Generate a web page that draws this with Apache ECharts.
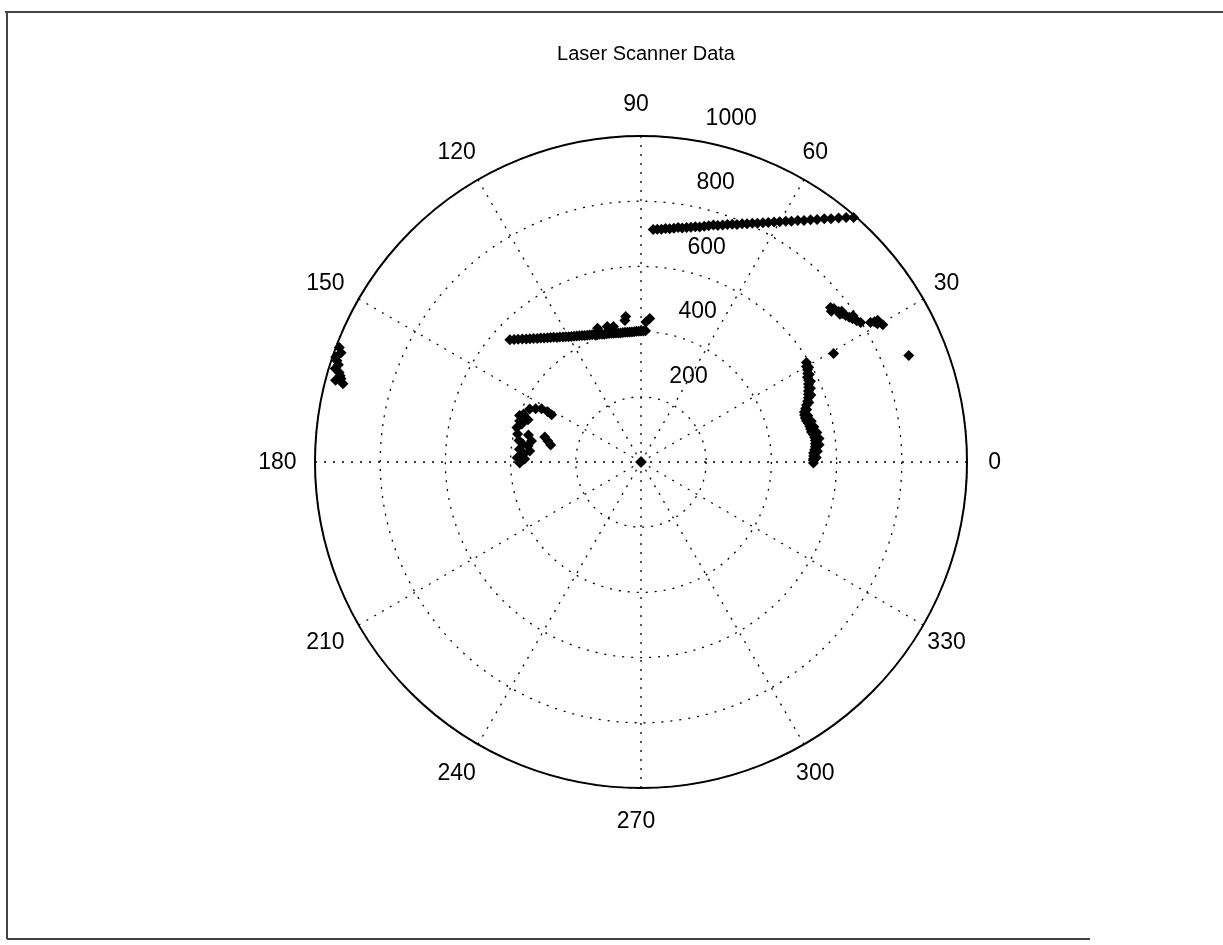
<!DOCTYPE html>
<html>
<head>
<meta charset="utf-8">
<title>Laser Scanner Data</title>
<script src="https://cdn.jsdelivr.net/npm/echarts@6/dist/echarts.min.js"></script>
<style>
  html, body { margin: 0; padding: 0; background: #fff; }
  #chart { width: 1223px; height: 945px; }
</style>
</head>
<body>
<div id="chart"></div>
<script>
// Scan returns as [range, bearing in degrees]
var northWall = [
  [994, 49], [979, 50], [963, 51], [947, 52], [934, 53], [919, 54], [907, 55], [894, 56],
  [883, 57], [871, 58], [862, 59], [851, 60], [842, 61], [832, 62], [824, 63], [815, 64],
  [808, 65], [800, 66], [794, 67], [786, 68], [781, 69], [775, 70], [769, 71], [763, 72],
  [760, 73], [754, 74], [749, 75], [743, 76], [741, 77], [736, 78], [733, 79], [729, 80],
  [728, 81], [724, 82], [721, 83], [720, 84], [717, 85], [716, 86], [714, 87]
];

var westWall = [
  [441, 86.5], [430, 88], [403, 88], [402, 89], [402, 90], [401, 91], [401, 92], [400, 93],
  [400, 94], [400, 95], [449, 96], [437, 96.5], [400, 96], [401, 97], [401, 98], [401, 99],
  [402, 100], [424, 101.5], [403, 101], [404, 102], [405, 103], [428, 104], [406, 104],
  [407, 105], [408, 106], [410, 107], [431, 108], [412, 108], [413, 109], [416, 110],
  [418, 111], [420, 112], [422, 113], [425, 114], [428, 115], [431, 116], [434, 117],
  [437, 118], [440, 119], [444, 120], [448, 121], [452, 122], [457, 123], [461, 124],
  [467, 125], [472, 126], [477, 127], [483, 128], [489, 129], [495, 130], [502, 131],
  [509, 132], [516, 133], [524, 134], [533, 135], [541, 136], [550, 137]
];

var eastWall = [
  [529, 359.7], [529, 0.5], [529, 1], [538, 1.5], [530, 2], [530, 3], [542, 3.5], [534, 4],
  [537, 5], [549, 5.5], [538, 6], [539, 7], [551, 7.5], [538, 8], [536, 9], [547, 9.5],
  [531, 10], [530, 11], [541, 11.5], [529, 12], [527, 13], [537, 13.5], [523, 14],
  [522, 15], [531, 15.5], [522, 16], [524, 17], [533, 17.5], [531, 18], [537, 19],
  [546, 19.5], [544, 20], [550, 21], [560, 21.5], [554, 22], [558, 23], [567, 23.5],
  [563, 24], [567, 25], [576, 25.5], [572, 26], [573, 27], [582, 27.5], [579, 28],
  [584, 29], [591, 29.5], [586, 30], [592, 31]
];

var northEastReturns = [
  [750, 39.2], [745, 38.4], [756, 38.5], [762, 37.3], [760, 36.6], [767, 36.4], [772, 35.6],
  [770, 36.9], [778, 34.8], [784, 34.1], [790, 34.6], [791, 33.2], [798, 32.4], [824, 31.3],
  [835, 31.0], [846, 30.9], [840, 30.3], [853, 29.6], [678, 29.4], [884, 21.7]
];

var westReturns = [
  [372, 180.5], [357, 178.5], [380, 178], [367, 176.2], [360, 176], [343, 174.3], [375, 174],
  [350, 172], [367, 171.3], [380, 170], [342, 169.1], [388, 167.2], [355, 166.5],
  [395, 164.5], [384, 162.3], [393, 161.3], [370, 159.5], [399, 159], [389, 157.7],
  [378, 154.5], [362, 153.2], [346, 151.8], [325, 151.7], [310, 152.2],
  [293, 167.3], [305, 165.4], [282, 169.3]
];

var farWestReturns = [
  [990, 159.2], [979, 160.0], [990, 161], [983, 161.6], [975, 162.2], [981, 163.0],
  [966, 163.5], [960, 164.0], [955, 164.5], [970, 165], [945, 165.3]
];

var zeroReturns = [[0, 0], [0, 140], [0, 145], [0, 150]];

var radialTicks = [200, 400, 600, 800, 1000];
var angleTicks = [0, 30, 60, 90, 120, 150, 180, 210, 240, 270, 300, 330];

var FONT = '"Liberation Sans", Arial, sans-serif';
var dotted = { color: '#000', width: 1.3, type: [2, 7] };
var RMAX = 1000;
var PLOT_R = 326;
var CENTER = [641, 462];

function scanSeries(name, data) {
  return {
    name: name,
    type: 'scatter',
    coordinateSystem: 'polar',
    polarIndex: 0,
    symbol: 'diamond',
    symbolSize: 11,
    itemStyle: { color: '#000', opacity: 1 },
    silent: true,
    data: data
  };
}

var hiddenAxis = {
  axisLine: { show: false }, axisTick: { show: false },
  axisLabel: { show: false }, splitLine: { show: false }
};

var chart = echarts.init(document.getElementById('chart'), null, { renderer: 'canvas' });

chart.setOption({
  backgroundColor: '#fff',
  animation: false,
  title: {
    text: 'Laser Scanner Data',
    left: 641,
    textAlign: 'center',
    top: 39,
    textStyle: { fontFamily: FONT, fontSize: 20, fontWeight: 'normal', color: '#000' }
  },
  polar: [
    { center: CENTER, radius: PLOT_R },
    // same scale, extended 10% past the rim, used to place the text labels
    { center: CENTER, radius: PLOT_R * 1.1 }
  ],
  angleAxis: [
    {
      polarIndex: 0,
      type: 'value', min: 0, max: 360, interval: 30,
      startAngle: 0, clockwise: false,
      axisLine: { show: true, lineStyle: { color: '#000', width: 2 } },
      axisTick: { show: false },
      axisLabel: { show: false },
      splitLine: { show: true, lineStyle: dotted }
    },
    Object.assign({ polarIndex: 1, type: 'value', min: 0, max: 360, startAngle: 0, clockwise: false }, hiddenAxis)
  ],
  radiusAxis: [
    {
      polarIndex: 0,
      type: 'value', min: 0, max: RMAX, interval: 200,
      axisLine: { show: false },
      axisTick: { show: false },
      axisLabel: { show: false },
      splitLine: { show: true, lineStyle: dotted }
    },
    Object.assign({ polarIndex: 1, type: 'value', min: 0, max: RMAX * 1.1 }, hiddenAxis)
  ],
  graphic: [
    { type: 'line', shape: { x1: 5, y1: 12, x2: 1223, y2: 12 }, style: { stroke: '#444', lineWidth: 2 } },
    { type: 'line', shape: { x1: 7, y1: 12, x2: 7, y2: 939 }, style: { stroke: '#444', lineWidth: 2 } },
    { type: 'line', shape: { x1: 7, y1: 939, x2: 1090, y2: 939 }, style: { stroke: '#444', lineWidth: 2 } }
  ],
  series: [
    scanSeries('north', northWall),
    scanSeries('west', westWall),
    scanSeries('east', eastWall),
    scanSeries('northEast', northEastReturns),
    scanSeries('westObj', westReturns),
    scanSeries('farWest', farWestReturns),
    scanSeries('zero', zeroReturns),
    {
      // bearing labels around the rim
      type: 'scatter', coordinateSystem: 'polar', polarIndex: 1, symbolSize: 0, silent: true,
      itemStyle: { opacity: 1 },
      data: angleTicks.map(function (a) { return { value: [RMAX * 1.1, a], name: String(a) }; }),
      label: {
        show: true, position: 'inside', offset: [-5, 1], formatter: '{b}',
        fontFamily: FONT, fontSize: 23, color: '#000', align: 'center', verticalAlign: 'middle'
      }
    },
    {
      // range labels along the 82 degree ray
      type: 'scatter', coordinateSystem: 'polar', polarIndex: 1, symbolSize: 0, silent: true,
      itemStyle: { opacity: 1 },
      data: radialTicks.map(function (r) { return { value: [r + 10, 82], name: String(r) }; }),
      label: {
        show: true, position: [0, 0], offset: [6, -6], formatter: '  {b}',
        fontFamily: FONT, fontSize: 23, color: '#000', align: 'left', verticalAlign: 'bottom'
      }
    }
  ]
});
</script>
</body>
</html>
